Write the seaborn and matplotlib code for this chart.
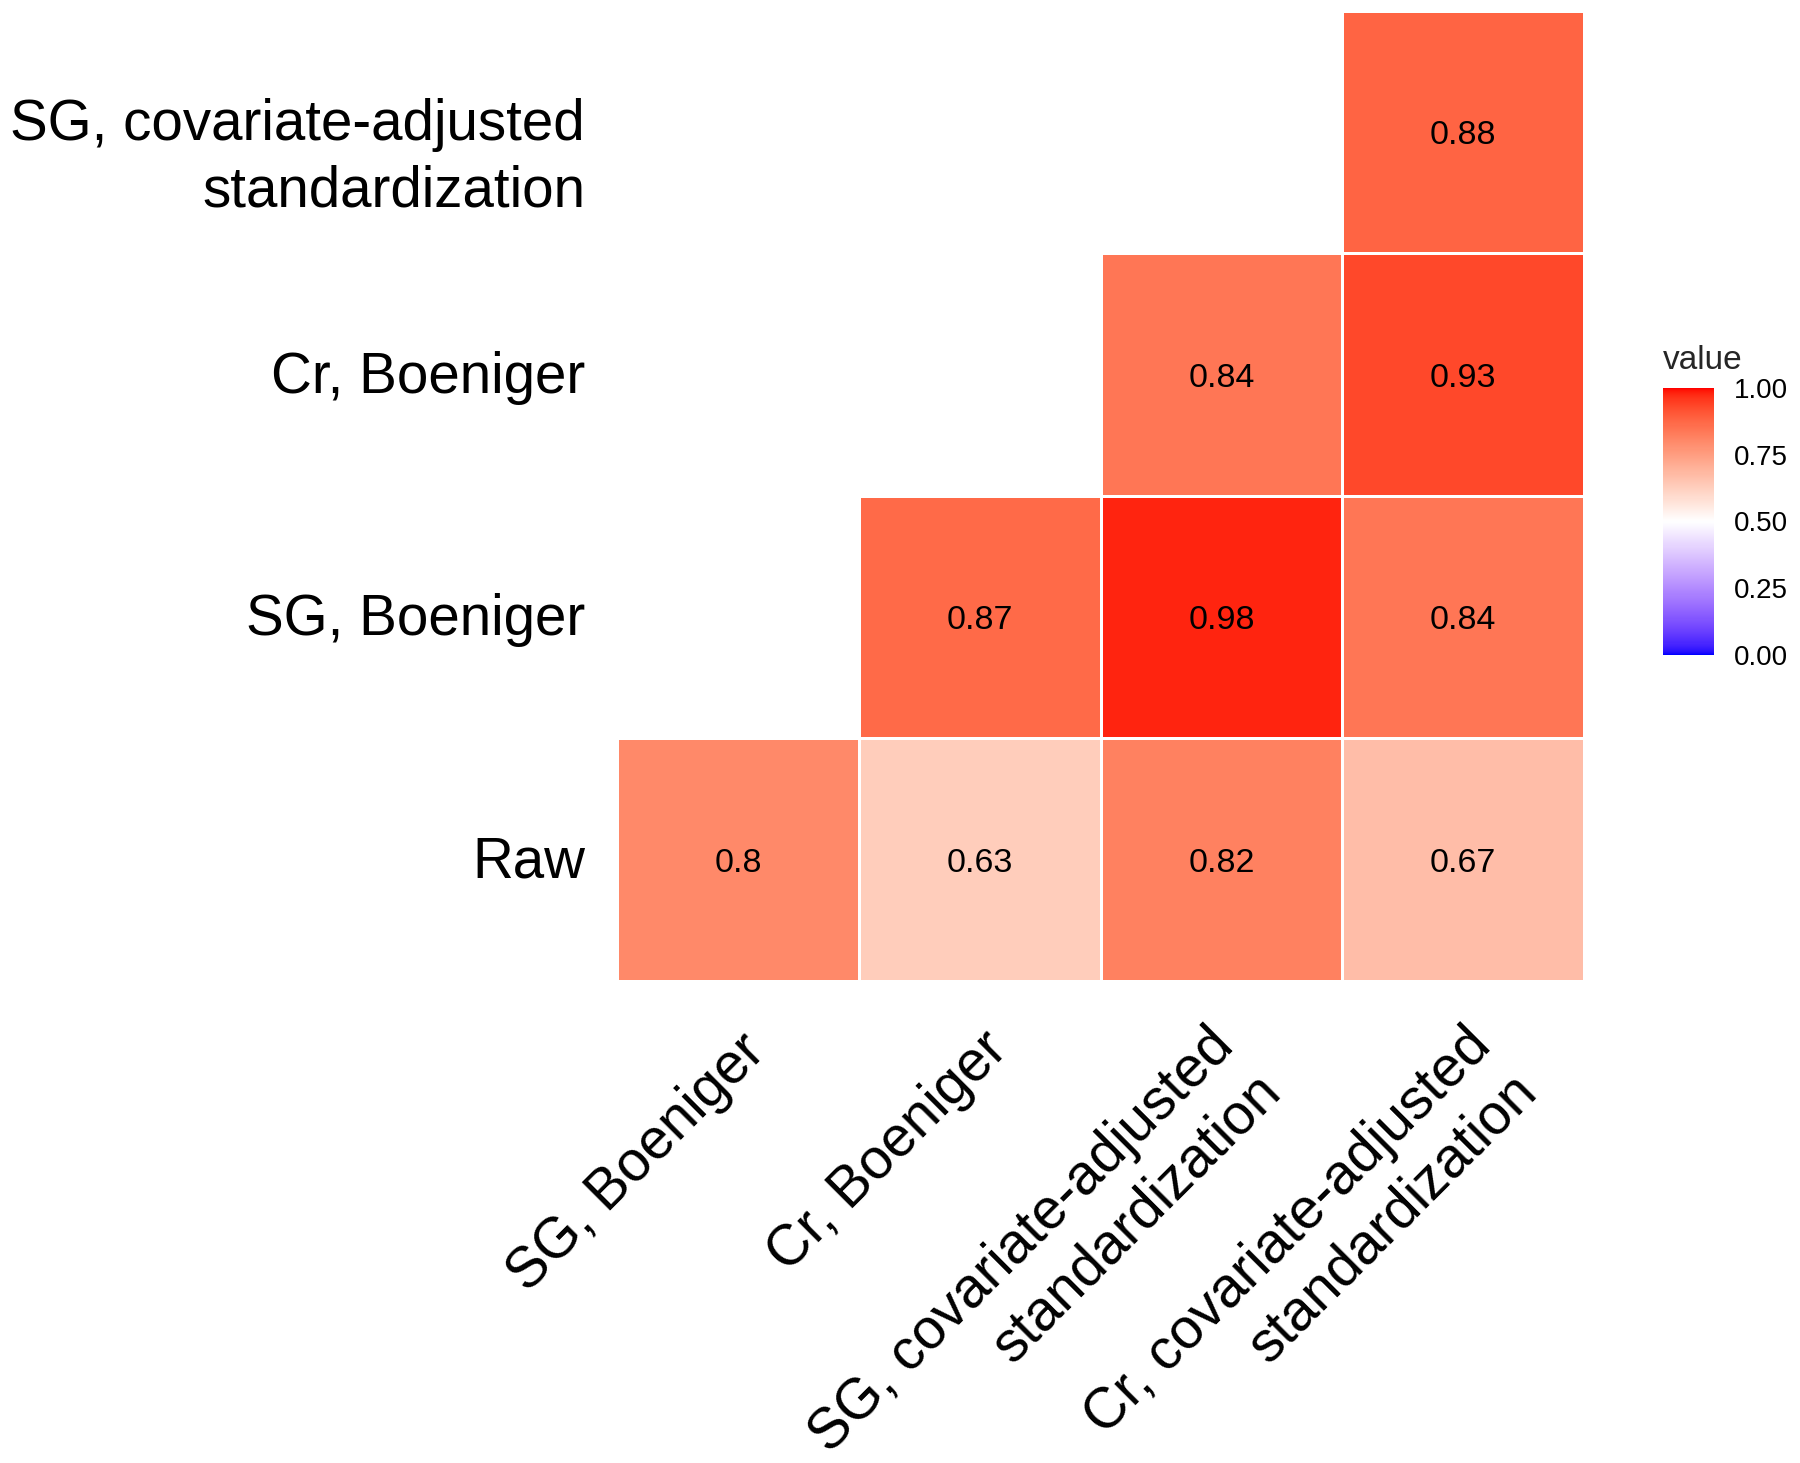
import numpy as np
import pandas as pd
import seaborn as sns
import matplotlib.pyplot as plt
from matplotlib import transforms
from matplotlib.colors import LinearSegmentedColormap

# axis labels
row_labels = ["SG, covariate-adjusted\nstandardization", "Cr, Boeniger", "SG, Boeniger", "Raw"]
col_labels = ["SG, Boeniger", "Cr, Boeniger",
              "SG, covariate-adjusted\nstandardization",
              "Cr, covariate-adjusted\nstandardization"]

# correlation values, top row first (nan = empty cell)
row_sg_cas = [np.nan, np.nan, np.nan, 0.88]
row_cr_boen = [np.nan, np.nan, 0.84, 0.93]
row_sg_boen = [np.nan, 0.87, 0.98, 0.84]
row_raw = [0.8, 0.63, 0.82, 0.67]

cbar_ticks = [0, 0.25, 0.5, 0.75, 1]

#colour helpers - ggplot style gradient2 interpolates in Lab space
M = np.array([[0.4124, 0.3576, 0.1805], [0.2126, 0.7152, 0.0722], [0.0193, 0.1192, 0.9505]])
WHITE = np.array([0.95047, 1.0, 1.08883])

def to_lab(c):
    c = np.asarray(c, float)
    lin = np.where(c <= 0.04045, c / 12.92, ((c + 0.055) / 1.055) ** 2.4)
    t = lin @ M.T / WHITE
    f = np.where(t > 0.008856, np.cbrt(t), 7.787 * t + 16 / 116)
    return np.array([116 * f[1] - 16, 500 * (f[0] - f[1]), 200 * (f[1] - f[2])])

def from_lab(lab):
    fy = (lab[0] + 16) / 116
    f = np.array([fy + lab[1] / 500, fy, fy - lab[2] / 200])
    t = np.where(f ** 3 > 0.008856, f ** 3, (f - 16 / 116) / 7.787)
    lin = np.linalg.solve(M, t * WHITE)
    s = np.where(lin <= 0.0031308, 12.92 * lin, 1.055 * np.clip(lin, 0, None) ** (1 / 2.4) - 0.055)
    return np.clip(s, 0, 1)

blue, white, red = to_lab([0, 0, 1]), to_lab([1, 1, 1]), to_lab([1, 0, 0])
colours = []
for v in np.linspace(0, 1, 256):
    if v < 0.5:
        colours.append(from_lab(blue + (white - blue) * v / 0.5))
    else:
        colours.append(from_lab(white + (red - white) * (v - 0.5) / 0.5))
cmap = LinearSegmentedColormap.from_list("bwr_lab", colours)

corr = pd.DataFrame([row_sg_cas, row_cr_boen, row_sg_boen, row_raw],
                    index=row_labels, columns=col_labels)

sns.set_theme(style="white")
plt.rcParams["font.family"] = ["Liberation Sans", "DejaVu Sans"]

fig = plt.figure(figsize=(18, 14.63), dpi=100)
ax = fig.add_axes([0.3428, 0.3295, 0.5372, 0.663])
cax = fig.add_axes([0.9239, 0.5523, 0.0283, 0.1825])

sns.heatmap(corr, ax=ax, cbar_ax=cax, cmap=cmap, vmin=0, vmax=1,
            annot=True, fmt="g",
            annot_kws={"size": 24.5, "color": "black", "va": "center_baseline"},
            linewidths=2, linecolor="white",
            cbar_kws={"ticks": cbar_ticks, "format": "%.2f"})

ax.set_xlabel("")
ax.set_ylabel("")
ax.set_xticklabels(col_labels, rotation=45, ha="right", va="top",
                   rotation_mode="anchor", fontsize=40.7, color="black", linespacing=1.28)
ax.set_yticklabels(row_labels, rotation=0, va="center_baseline",
                   fontsize=40.7, color="black", linespacing=1.3)
ax.tick_params(axis="both", length=0)
ax.tick_params(axis="x", pad=21)
ax.tick_params(axis="y", pad=23)

#colour bar
cax.set_title("value", loc="left", fontsize=24, pad=14)
cax.tick_params(direction="in", length=5, width=1.5, color="white",
                left=True, right=True, labelsize=20, labelcolor="black", pad=14)

# nudge labels (pixels: right, down) to sit like the ggplot original
def nudge(label, dx, dy):
    off = transforms.ScaledTranslation(dx / 100, -dy / 100, fig.dpi_scale_trans)
    label.set_transform(label.get_transform() + off)

x_nudges = [(0, 14), (0, 11), (-15, 8), (0, 8)]
for lab, (dx, dy) in zip(ax.get_xticklabels(), x_nudges):
    nudge(lab, dx, dy)
for lab in ax.get_yticklabels():
    if "\n" in lab.get_text():
        nudge(lab, 0, 14)
    else:
        nudge(lab, 0, -3)

fig.savefig("out.png", dpi=100)
